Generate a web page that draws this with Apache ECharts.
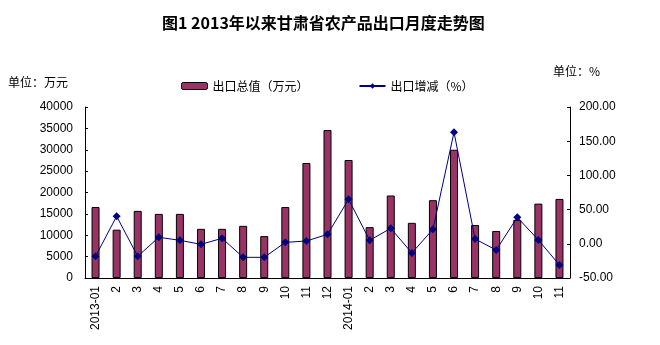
<!DOCTYPE html>
<html>
<head>
<meta charset="utf-8">
<script src="https://cdn.jsdelivr.net/npm/echarts@6/dist/echarts.min.js"></script>
<style>
  html, body { margin: 0; padding: 0; background: #fff; }
  #chart { width: 660px; height: 345px; }
</style>
</head>
<body>
<div id="chart"></div>
<script>
// Monthly categories, Jan 2013 – Nov 2014
const months = ['2013-01','2','3','4','5','6','7','8','9','10','11','12',
                '2014-01','2','3','4','5','6','7','8','9','10','11'];
// Export value (10k yuan)
const exportValue = [16600, 11300, 15700, 15000, 15000, 11500, 11500, 12200, 9800, 16600, 26900, 34600,
                     27600, 11900, 19300, 12900, 18200, 30000, 12400, 11000, 13600, 17400, 18500];
// Year-on-year change (%)
const exportChange = [-18.3, 40.2, -18.3, 9.5, 5.1, -0.8, 8.0, -19.8, -19.8, 2.1, 4.1, 13.8,
                      65.0, 5.1, 22.6, -13.4, 21.1, 163.0, 7.0, -9.1, 38.7, 5.6, -31.0];

const fontLatin = '"Liberation Sans", Arial, "Noto Sans CJK SC", sans-serif';
const fontCJK = '"Noto Sans CJK SC", "Liberation Sans", sans-serif';

const chart = echarts.init(document.getElementById('chart'), null, { renderer: 'canvas' });
chart.setOption({
  animation: false,
  backgroundColor: '#ffffff',
  title: {
    text: '图1 2013年以来甘肃省农产品出口月度走势图',
    left: 162,
    top: 15,
    padding: 0,
    textStyle: { fontFamily: fontCJK, fontSize: 16, fontWeight: 'bold', color: '#000' }
  },
  legend: {
    left: 181,
    top: 80,
    padding: 0,
    itemGap: 50,
    itemWidth: 26,
    itemHeight: 7,
    textStyle: { fontFamily: fontCJK, fontSize: 12, color: '#000' },
    data: [
      { name: '出口总值（万元）', itemStyle: { color: '#993366', borderColor: '#000', borderWidth: 1 } },
      { name: '出口增减（%）' }
    ]
  },
  graphic: [
    { type: 'text', left: 8, top: 76, style: { text: '单位：万元', font: '12px ' + fontCJK, fill: '#000' } },
    { type: 'text', left: 553, top: 65, style: { text: '单位：%', font: '12px ' + fontCJK, fill: '#000' } }
  ],
  grid: { left: 85, right: 90, top: 107, bottom: 67 },
  xAxis: {
    type: 'category',
    data: months,
    axisLine: { lineStyle: { color: '#000', width: 1 } },
    axisTick: { show: false },
    axisLabel: { rotate: 90, margin: 8, interval: 0, color: '#000', fontFamily: fontLatin, fontSize: 12 }
  },
  yAxis: [
    {
      type: 'value',
      min: 0, max: 40000, interval: 5000,
      splitLine: { show: false },
      axisLine: { show: true, lineStyle: { color: '#000' } },
      axisTick: { show: true, inside: true, length: 3, lineStyle: { color: '#000' } },
      axisLabel: { margin: 12, color: '#000', fontFamily: fontLatin, fontSize: 12,
                   formatter: v => String(v) }
    },
    {
      type: 'value',
      position: 'right',
      min: -50, max: 200, interval: 50,
      splitLine: { show: false },
      axisLine: { show: true, lineStyle: { color: '#000' } },
      axisTick: { show: true, inside: true, length: 3, lineStyle: { color: '#000' } },
      axisLabel: { margin: 9, color: '#000', fontFamily: fontLatin, fontSize: 12,
                   formatter: v => v.toFixed(2) }
    }
  ],
  series: [
    {
      name: '出口总值（万元）',
      type: 'bar',
      data: exportValue,
      barWidth: 8,
      itemStyle: { color: '#993366', borderColor: '#000', borderWidth: 1 }
    },
    {
      name: '出口增减（%）',
      type: 'line',
      yAxisIndex: 1,
      data: exportChange,
      symbol: 'diamond',
      symbolSize: 8,
      lineStyle: { color: '#000080', width: 1 },
      itemStyle: { color: '#000080' }
    }
  ]
});
</script>
</body>
</html>
